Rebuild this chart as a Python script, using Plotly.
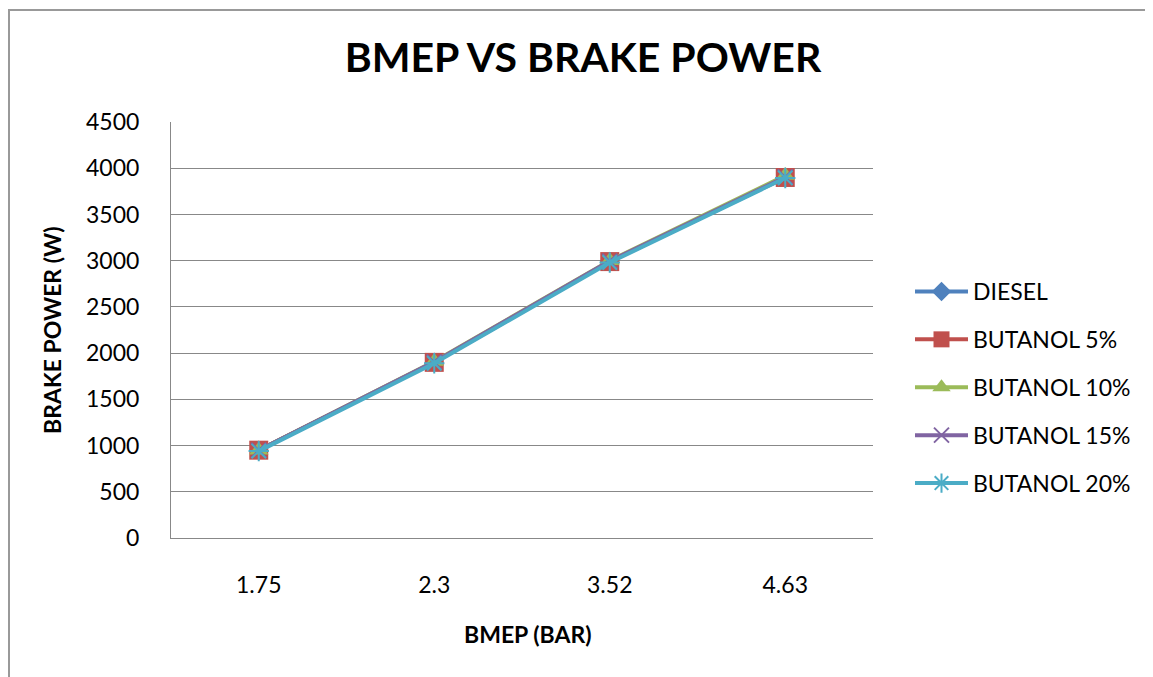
import plotly.graph_objects as go

categories = ["1.75", "2.3", "3.52", "4.63"]
series_names = ["DIESEL", "BUTANOL 5%", "BUTANOL 10%", "BUTANOL 15%", "BUTANOL 20%"]
diesel = [950, 1900, 2990, 3900]
butanol5 = [950, 1900, 2990, 3900]
butanol10 = [950, 1910, 3000, 3920]
butanol15 = [950, 1905, 2995, 3905]
butanol20 = [940, 1890, 2980, 3895]
y_ticks = [0, 500, 1000, 1500, 2000, 2500, 3000, 3500, 4000, 4500]

colors = ["#4F81BD", "#C0504D", "#9BBB59", "#8064A2", "#4BACC6"]
symbols = ["diamond", "square", "triangle-up", "x-thin", "asterisk"]
sizes = [15, 19, 17, 15, 17]
values = [diesel, butanol5, butanol10, butanol15, butanol20]

# page body has an 8px margin, so the figure is drawn 8px smaller and positions are offset
W, H = 1145, 669
L, R, T, B = 163, 865, 114, 530

FONT = "Lato, 'Open Sans', sans-serif"

fig = go.Figure()
for i, (name, vals, c, s, sz) in enumerate(zip(series_names, values, colors, symbols, sizes)):
    marker = dict(symbol=s, size=sz, color=c)
    if s in ("x-thin", "asterisk"):
        marker["line"] = dict(color=c, width=2)
    fig.add_trace(go.Scatter(x=categories, y=vals, name=name, mode="lines+markers",
                             legendgroup=f"g{i}",
                             line=dict(color=c, width=4), marker=marker))

def px_x(p):
    return (p - L) / (R - L)

def px_y(p):
    return (B - p) / (B - T)

fig.add_shape(type="rect", xref="paper", yref="paper",
              x0=px_x(1), x1=px_x(1160), y0=px_y(700), y1=px_y(2),
              line=dict(color="#999999", width=2))

fig.update_layout(
    width=W, height=H,
    margin=dict(l=L, r=W - R, t=T, b=H - B),
    paper_bgcolor="white", plot_bgcolor="white",
    font=dict(family=FONT, size=23, color="black"),
    title=dict(text="<b>BMEP VS BRAKE POWER</b>", x=575 / W, xanchor="center",
               y=1 - 50 / H, yanchor="middle", font=dict(size=41, color="black")),
    xaxis=dict(type="category", showgrid=False, showline=True, linecolor="#888888",
               linewidth=1, ticks="", ticklabelstandoff=26,
               tickfont=dict(size=23), range=[-0.5, 3.5]),
    yaxis=dict(range=[0, 4500], tickvals=y_ticks, showgrid=True, gridcolor="#888888",
               gridwidth=1, showline=True, linecolor="#888888", ticks="",
               ticklabelstandoff=26, zeroline=False,
               tickfont=dict(size=23)),
    legend=dict(x=px_x(902), y=px_y(262), xanchor="left", yanchor="top",
                font=dict(size=23), tracegroupgap=15, itemwidth=53,
                bgcolor="rgba(0,0,0,0)"),
    annotations=[
        dict(text="<b>BMEP (BAR)</b>", xref="paper", yref="paper",
             x=px_x(520), y=px_y(626), xanchor="center", yanchor="middle",
             showarrow=False, font=dict(size=23)),
        dict(text="<b>BRAKE POWER (W)</b>", xref="paper", yref="paper",
             x=px_x(44), y=0.5, xanchor="center", yanchor="middle", textangle=-90,
             showarrow=False, font=dict(size=23)),
    ],
)

fig.write_html("out.html")
